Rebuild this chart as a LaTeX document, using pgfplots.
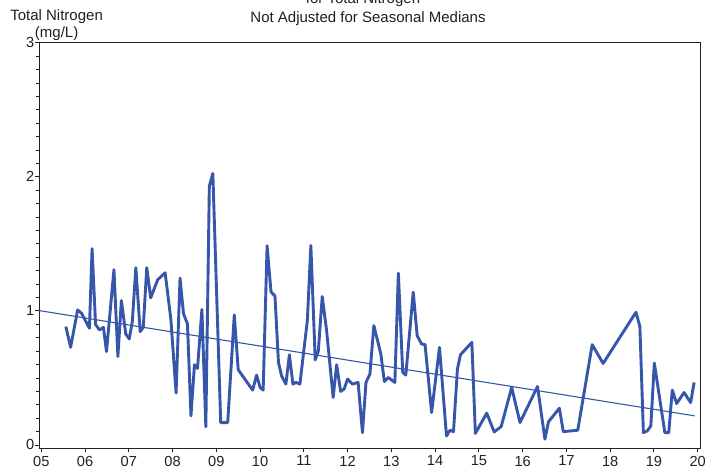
\documentclass[border=0pt]{standalone}
\usepackage{pgfplots}
\pgfplotsset{compat=1.18}
\usepackage{fontspec}
\setmainfont{Liberation Sans}
\definecolor{tnblue}{RGB}{54,86,170}
\definecolor{axgray}{RGB}{35,31,32}
\pgfplotstableread{
year val
2005.56 0.883
2005.67 0.728
2005.83 1.007
2005.92 0.982
2006.10 0.870
2006.16 1.464
2006.24 0.898
2006.33 0.858
2006.42 0.877
2006.49 0.696
2006.66 1.307
2006.75 0.660
2006.83 1.077
2006.93 0.828
2007.01 0.791
2007.08 0.922
2007.16 1.322
2007.26 0.845
2007.33 0.877
2007.41 1.322
2007.50 1.097
2007.66 1.232
2007.83 1.284
2007.96 0.940
2008.08 0.387
2008.17 1.244
2008.25 0.978
2008.34 0.903
2008.42 0.217
2008.50 0.598
2008.57 0.571
2008.67 1.010
2008.76 0.135
2008.84 1.930
2008.92 2.025
2009.10 0.167
2009.26 0.167
2009.41 0.970
2009.50 0.561
2009.83 0.409
2009.92 0.521
2010.00 0.429
2010.07 0.409
2010.16 1.485
2010.25 1.141
2010.34 1.111
2010.42 0.616
2010.49 0.516
2010.59 0.454
2010.67 0.673
2010.75 0.454
2010.82 0.466
2010.91 0.454
2010.99 0.678
2011.08 0.927
2011.16 1.488
2011.26 0.634
2011.33 0.698
2011.42 1.107
2011.52 0.853
2011.67 0.354
2011.75 0.598
2011.84 0.399
2011.92 0.417
2012.00 0.491
2012.11 0.454
2012.24 0.466
2012.34 0.092
2012.42 0.466
2012.51 0.529
2012.60 0.890
2012.76 0.678
2012.84 0.473
2012.93 0.503
2013.08 0.466
2013.16 1.281
2013.26 0.541
2013.33 0.521
2013.50 1.139
2013.59 0.815
2013.69 0.753
2013.77 0.748
2013.92 0.242
2014.10 0.728
2014.26 0.067
2014.34 0.110
2014.42 0.099
2014.51 0.566
2014.58 0.673
2014.84 0.765
2014.92 0.086
2015.18 0.237
2015.35 0.097
2015.51 0.137
2015.75 0.429
2015.94 0.167
2016.34 0.436
2016.51 0.043
2016.59 0.172
2016.84 0.274
2016.93 0.099
2017.26 0.110
2017.59 0.748
2017.84 0.608
2018.59 0.990
2018.68 0.883
2018.76 0.092
2018.85 0.105
2018.93 0.142
2019.01 0.611
2019.25 0.092
2019.34 0.092
2019.42 0.409
2019.52 0.309
2019.69 0.391
2019.84 0.316
2019.92 0.466
}\tndata
\pgfplotstableread{
year val
2004.954 1.002
2019.93 0.217
}\trenddata
\begin{document}
\begin{tikzpicture}
\useasboundingbox (0pt,0pt) rectangle (708pt,470pt);
\begin{axis}[
  at={(39.3pt,21.7pt)}, anchor=south west,
  scale only axis, width=661.4pt, height=405.6pt,
  xmin=2004.954, xmax=2020.07,
  ymin=-0.025, ymax=3,
  xtick={2005,2006,...,2020},
  xticklabels={05,06,07,08,09,10,11,12,13,14,15,16,17,18,19,20},
  ytick={0,1,2,3},
  minor y tick num=9,
  xtick pos=bottom, ytick pos=left,
  tick align=outside,
  major tick length=4pt, minor tick length=3pt,
  every tick/.style={axgray, line width=0.8pt},
  axis line style={axgray, line width=0.9pt},
  tick label style={font=\fontsize{14.6}{17}\selectfont, text=axgray},
  yticklabel style={xshift=2.5pt},
  /pgf/number format/assume math mode=true,
  clip=false,
]
\addplot[tnblue, line width=2.9pt, line join=round] table[x=year,y=val] {\tndata};
\addplot[tnblue, line width=1.1pt] table[x=year,y=val] {\trenddata};
\end{axis}
\begin{scope}[every node/.style={inner sep=0pt, anchor=base, font=\fontsize{15}{18}\selectfont, text=axgray}]
\node at (56.6pt,449.3pt) {Total Nitrogen};
\node at (56.6pt,432.7pt) {(mg/L)};
\node at (363pt,466pt) {for Total Nitrogen};
\node at (368pt,447.3pt) {Not Adjusted for Seasonal Medians};
\end{scope}
\end{tikzpicture}
\end{document}
